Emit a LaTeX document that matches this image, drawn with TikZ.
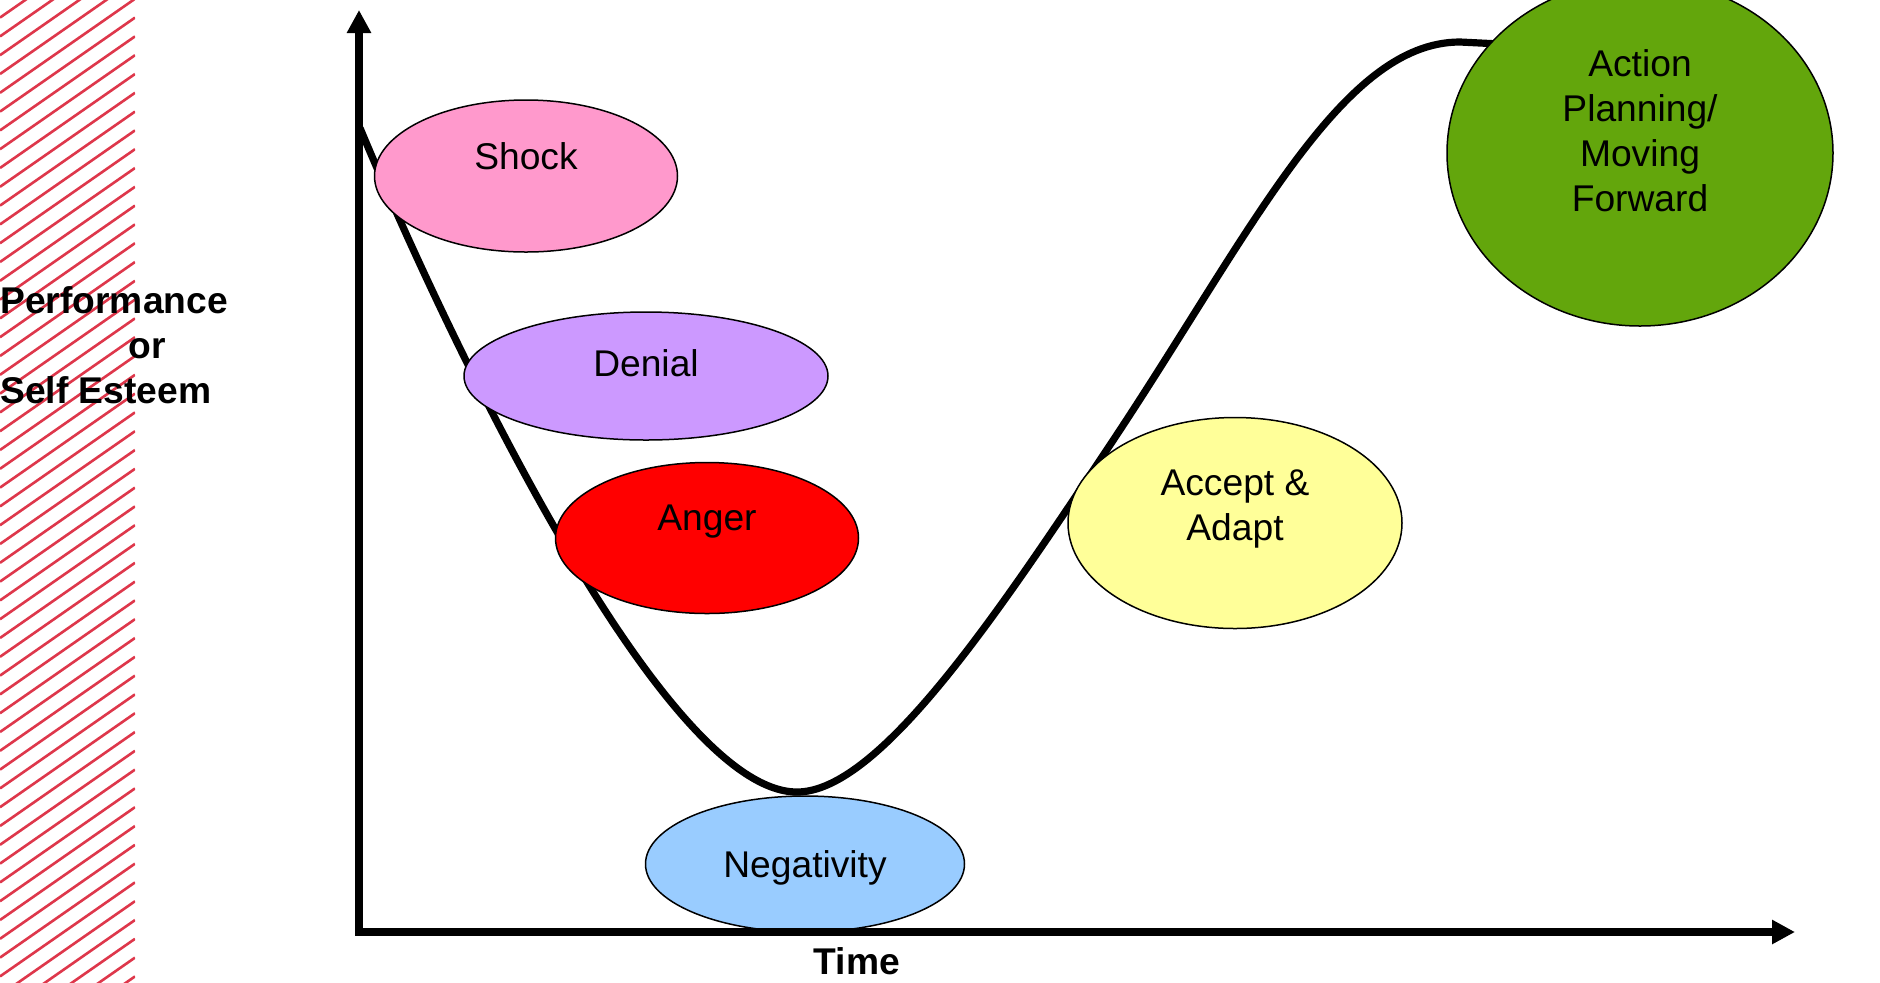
\documentclass[tikz,border=0pt]{standalone}
\usepackage{fontspec}
\setmainfont{Liberation Sans}
\usetikzlibrary{%
  arrows.meta,%
  shapes.geometric%
}
\definecolor{shockpink}{RGB}{255,153,204}
\definecolor{deniallilac}{RGB}{204,153,255}
\definecolor{negblue}{RGB}{153,204,255}
\definecolor{acceptyellow}{RGB}{255,255,153}
\definecolor{actiongreen}{RGB}{99,166,12}
\definecolor{hatchred}{RGB}{222,55,75}

\begin{document}
\begin{tikzpicture}[x=0.5pt,y=-0.5pt,
    stage/.style={ellipse,draw=black,line width=0.75pt,inner sep=0pt},
    stagetext/.style={align=center,inner sep=0pt,font=\fontsize{18.6}{22.5}\selectfont},
    axislabel/.style={align=left,inner sep=0pt,font=\fontsize{18.6}{22.5}\selectfont\bfseries},
    axisline/.style={line width=4pt,line join=miter,
      {Triangle[length=11.5pt,width=11.5pt]}-{Triangle[length=11.5pt,width=11.5pt]}}]
  \useasboundingbox (0,0) rectangle (1880,982);
  \clip (0,0) rectangle (1880,982);
  % hatched strip
  \begin{scope}
    \clip (0,0) rectangle (135,982);
    \foreach \k in {0,...,60}
      \draw[hatchred,line width=1.3pt] (0,-20+18.8*\k) -- (135,-114+18.8*\k);
  \end{scope}
  \node[axislabel,anchor=west] (ylabel) at (0,345)
    {Performance\\\hspace*{64pt}or\\Self Esteem};
  \node[axislabel] (xlabel) at (857,961) {Time};
  % change curve
  \draw[line width=3.6pt] (360,128) .. controls (440,320) and (660,792) .. (797,792)
    .. controls (880,792) and (1000,610) .. (1110,445)
    .. controls (1250,235) and (1340,42) .. (1460,42) -- (1500,44);
  % stages
  \node[stage,fill=shockpink,minimum width=151.5pt,minimum height=76pt] (shock) at (526,176) {};
  \node[stagetext] (shock-t) at (526,156) {Shock};
  \node[stage,fill=deniallilac,minimum width=182pt,minimum height=64pt] (denial) at (646,376) {};
  \node[stagetext] (denial-t) at (646,363) {Denial};
  \node[stage,fill=red,minimum width=151.5pt,minimum height=75.5pt] (anger) at (707,538) {};
  \node[stagetext] (anger-t) at (707,522) {Anger};
  \node[stage,fill=negblue,minimum width=159.5pt,minimum height=68pt] (neg) at (805,864) {};
  \node[stagetext] (neg-t) at (805,868) {Negativity};
  \node[stage,fill=acceptyellow,minimum width=167pt,minimum height=105.5pt] (accept) at (1235,523) {};
  \node[stagetext] (accept-t) at (1235,509) {Accept \&\\Adapt};
  \node[stage,fill=actiongreen,minimum width=193pt,minimum height=173pt] (action) at (1640,153) {};
  \node[stagetext] (action-t) at (1640,131) {Action\\Planning/\\Moving\\Forward};
  % axes
  \coordinate (ytop) at (359,10);
  \coordinate (origin) at (359,932);
  \coordinate (xend) at (1795,932);
  \draw[axisline] (ytop) -- (origin) -- (xend);
\end{tikzpicture}
\end{document}
